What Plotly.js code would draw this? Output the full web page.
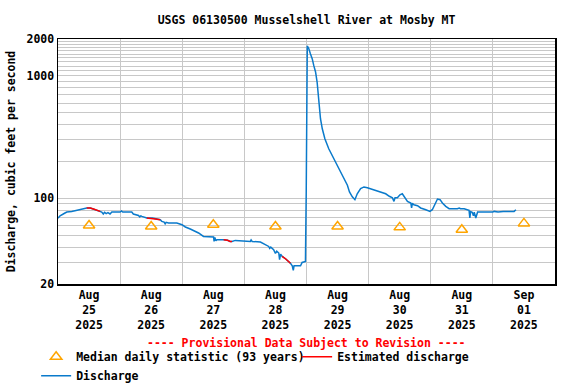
<!DOCTYPE html>
<html>
<head>
<meta charset="utf-8">
<script src="https://cdn.plot.ly/plotly-3.0.1.min.js"></script>
<style>html,body{margin:0;padding:0;background:#fff;}#chart{width:576px;height:384px;}</style>
</head>
<body>
<div id="chart"></div>
<script>
// ---- Data ----
const dischargeTimes = [
 '2025-08-25 00:00','2025-08-25 00:48','2025-08-25 02:42','2025-08-25 03:24','2025-08-25 05:18','2025-08-25 08:12','2025-08-25 09:48','2025-08-25 11:06','2025-08-25 12:30','2025-08-25 14:00','2025-08-25 16:18','2025-08-25 16:54','2025-08-25 17:30','2025-08-25 18:00','2025-08-25 18:36','2025-08-25 19:18','2025-08-25 20:06','2025-08-25 20:48',
 '2025-08-26 00:00','2025-08-26 00:30','2025-08-26 01:00','2025-08-26 04:30','2025-08-26 05:06','2025-08-26 07:06','2025-08-26 07:36','2025-08-26 08:00','2025-08-26 08:24','2025-08-26 10:18','2025-08-26 12:30','2025-08-26 13:30','2025-08-26 15:30','2025-08-26 16:06','2025-08-26 17:00','2025-08-26 17:24','2025-08-26 17:48','2025-08-26 18:42','2025-08-26 21:54','2025-08-26 23:54',
 '2025-08-27 01:12','2025-08-27 03:06','2025-08-27 05:00','2025-08-27 06:18','2025-08-27 08:12','2025-08-27 12:06','2025-08-27 12:18','2025-08-27 12:36','2025-08-27 13:00','2025-08-27 13:24','2025-08-27 16:00','2025-08-27 17:30','2025-08-27 18:30','2025-08-27 19:12','2025-08-27 20:30','2025-08-27 21:48',
 '2025-08-28 02:18','2025-08-28 02:36','2025-08-28 03:00','2025-08-28 06:12','2025-08-28 08:06','2025-08-28 09:24','2025-08-28 09:48','2025-08-28 10:12','2025-08-28 11:18','2025-08-28 12:00','2025-08-28 12:30','2025-08-28 13:18','2025-08-28 13:36','2025-08-28 14:00','2025-08-28 14:36','2025-08-28 16:00','2025-08-28 17:48','2025-08-28 18:30','2025-08-28 18:54','2025-08-28 19:12','2025-08-28 21:42','2025-08-28 22:18','2025-08-28 23:36','2025-08-28 23:42','2025-08-28 23:54',
 '2025-08-29 00:18','2025-08-29 00:54','2025-08-29 01:30','2025-08-29 02:12','2025-08-29 02:48','2025-08-29 03:30','2025-08-29 04:06','2025-08-29 04:30','2025-08-29 04:48','2025-08-29 05:24','2025-08-29 06:06','2025-08-29 07:06','2025-08-29 08:36','2025-08-29 10:36','2025-08-29 11:54','2025-08-29 13:12','2025-08-29 14:24','2025-08-29 15:48','2025-08-29 16:36','2025-08-29 17:42','2025-08-29 18:42','2025-08-29 19:36','2025-08-29 20:54','2025-08-29 22:12','2025-08-29 23:30',
 '2025-08-30 01:24','2025-08-30 04:00','2025-08-30 06:36','2025-08-30 08:00','2025-08-30 09:12','2025-08-30 09:48','2025-08-30 10:12','2025-08-30 11:06','2025-08-30 12:06','2025-08-30 13:00','2025-08-30 13:42','2025-08-30 15:00','2025-08-30 16:18','2025-08-30 16:36','2025-08-30 16:54','2025-08-30 17:30','2025-08-30 18:54','2025-08-30 20:06','2025-08-30 22:06','2025-08-30 23:42',
 '2025-08-31 00:36','2025-08-31 01:30','2025-08-31 02:36','2025-08-31 03:36','2025-08-31 04:30','2025-08-31 05:48','2025-08-31 07:06','2025-08-31 10:18','2025-08-31 11:00','2025-08-31 11:30','2025-08-31 12:54','2025-08-31 14:48','2025-08-31 15:06','2025-08-31 15:24','2025-08-31 16:00','2025-08-31 16:30','2025-08-31 16:48','2025-08-31 17:24','2025-08-31 18:06',
 '2025-09-01 00:00','2025-09-01 00:30','2025-09-01 02:00','2025-09-01 04:00','2025-09-01 08:12','2025-09-01 08:54'
];
const dischargeValues = [
 69,72,76,77.4,78.3,80.8,82.4,83.5,83.5,81.5,78.3,77.4,74.6,77.0,75.0,76.5,74.6,77.4,
 77.4,79.0,77.4,77.4,74.6,72.6,70.5,72.0,71.3,69.2,69.0,68.0,67.0,64.9,64.0,62.0,63.7,63.0,63.0,61.0,
 58.4,56.2,53.8,52.2,48.9,48.4,44.5,48.0,45.0,46.0,46.0,45.5,44.5,44.5,45.4,45.1,
 44.5,45.8,44.5,44.0,41.9,40.5,39.0,40.0,38.1,35.5,37.0,35.8,31.6,35.0,33.6,32.0,29.5,28.2,25.8,28.2,28.2,30.0,30.6,116,116,
 1754,1666,1518,1381,1218,1076,891,738,574,447,370,307,254,211,186,164,145,128,113,103,97.6,109,120,124,122,
 118,113,109,104,101,94.5,101,101,107,109,104,94.5,91.7,83.5,91.0,88.8,87.1,83.5,80.8,78.3,
 80.8,88.8,98.8,97.6,91.7,86.0,82.4,82.4,83.5,82.4,82.4,79.8,69.2,78.0,77.0,72.0,77.0,69.2,77.4,
 77.4,78.3,77.4,78.3,78.3,80.8
];
const estimatedTimes = [
 '2025-08-25 11:06','2025-08-25 12:30','2025-08-25 14:00','2025-08-25 16:18','2025-08-25 16:19',
 '2025-08-26 10:18','2025-08-26 12:30','2025-08-26 13:30','2025-08-26 15:30','2025-08-26 15:31',
 '2025-08-27 16:00','2025-08-27 17:30','2025-08-27 18:30','2025-08-27 19:12','2025-08-27 19:13',
 '2025-08-28 14:36','2025-08-28 16:00','2025-08-28 17:48'
];
const estimatedValues = [
 83.5,83.5,81.5,78.3,null,
 69.2,69.0,68.0,67.0,null,
 46.0,45.5,44.5,44.5,null,
 33.6,32.0,29.5
];
const medianDates = ['2025-08-25 12:00','2025-08-26 12:00','2025-08-27 12:00','2025-08-28 12:00','2025-08-29 12:00','2025-08-30 12:00','2025-08-31 12:00','2025-09-01 12:00'];
const medianValues = [60, 59, 61, 59, 59, 58, 55.5, 62.5];
const xTickDates = medianDates;
const xTickLabels = ['Aug<br>25<br>2025','Aug<br>26<br>2025','Aug<br>27<br>2025','Aug<br>28<br>2025','Aug<br>29<br>2025','Aug<br>30<br>2025','Aug<br>31<br>2025','Sep<br>01<br>2025'];
const yTickVals = [20, 100, 1000, 2000];
const yTickText = ['20', '100', '1000', '2000'];
const yMinorVals = [30,40,50,60,70,80,90,200,300,400,500,600,700,800,900,1100,1200,1300,1400,1500,1600,1700,1800,1900];

// ---- Styling ----
const FONT = {family: 'DejaVu Sans Mono, monospace', size: 11.5, color: '#000', weight: 'bold'};
const GRID = '#c8c8c8';

const traces = [
  {x: dischargeTimes, y: dischargeValues, type: 'scatter', mode: 'lines', name: 'Discharge',
   line: {color: '#0a7acb', width: 1.5}, legendrank: 3},
  {x: estimatedTimes, y: estimatedValues, type: 'scatter', mode: 'lines', name: 'Estimated discharge',
   line: {color: '#ff0000', width: 1.5}, connectgaps: false, legendrank: 2},
  {x: medianDates, y: medianValues, type: 'scatter', mode: 'markers', name: 'Median daily statistic (93 years)',
   marker: {symbol: 'triangle-up-open', size: 10, color: '#ffa500', line: {width: 1.5, color: '#ffa500'}}, legendrank: 1}
];

const layout = {
  width: 576, height: 384,
  margin: {l: 58, r: 21, t: 39, b: 100, autoexpand: false},
  paper_bgcolor: '#fff', plot_bgcolor: '#fff',
  font: FONT,
  title: {text: 'USGS 06130500 Musselshell River at Mosby MT', font: FONT,
          x: 0.5, xref: 'paper', xanchor: 'center', y: 1 - 20/384, yref: 'container', yanchor: 'middle'},
  xaxis: {
    type: 'date', range: ['2025-08-25 00:00', '2025-09-02 00:00'], automargin: false,
    tickmode: 'array', tickvals: xTickDates, ticktext: xTickLabels,
    showgrid: false, ticks: '', tickfont: FONT,
    showline: true, linecolor: '#000', linewidth: 1.5, mirror: true, zeroline: false,
    minor: {dtick: 86400000, tick0: '2025-08-25', showgrid: true, gridcolor: GRID, gridwidth: 1, ticks: ''}
  },
  yaxis: {
    type: 'log', range: [Math.log10(20), Math.log10(2000)], automargin: false,
    tickmode: 'array', tickvals: yTickVals, ticktext: yTickText, tickfont: FONT, ticks: '',
    showgrid: true, gridcolor: GRID, gridwidth: 1,
    showline: true, linecolor: '#000', linewidth: 1.5, mirror: true, zeroline: false,
    minor: {tickmode: 'array', tickvals: yMinorVals, showgrid: true, gridcolor: GRID, gridwidth: 1, ticks: ''},
    title: {text: 'Discharge, cubic feet per second', font: FONT, standoff: 8}
  },
  showlegend: true,
  legend: {orientation: 'h', x: -0.044, xanchor: 'left', y: -0.238, yanchor: 'top',
           bgcolor: 'rgba(0,0,0,0)', font: FONT, entrywidth: 216, traceorder: 'normal',
           itemwidth: 30, tracegroupgap: 0},
  annotations: [{text: '---- Provisional Data Subject to Revision ----', xref: 'paper', yref: 'paper',
                 x: 0.5, y: (284 - 343) / 245, xanchor: 'center', yanchor: 'middle', showarrow: false,
                 font: {family: FONT.family, size: 11.5, color: '#ff0000', weight: 'bold'}}]
};

Plotly.newPlot('chart', traces, layout, {displayModeBar: false, staticPlot: true});
</script>
</body>
</html>
